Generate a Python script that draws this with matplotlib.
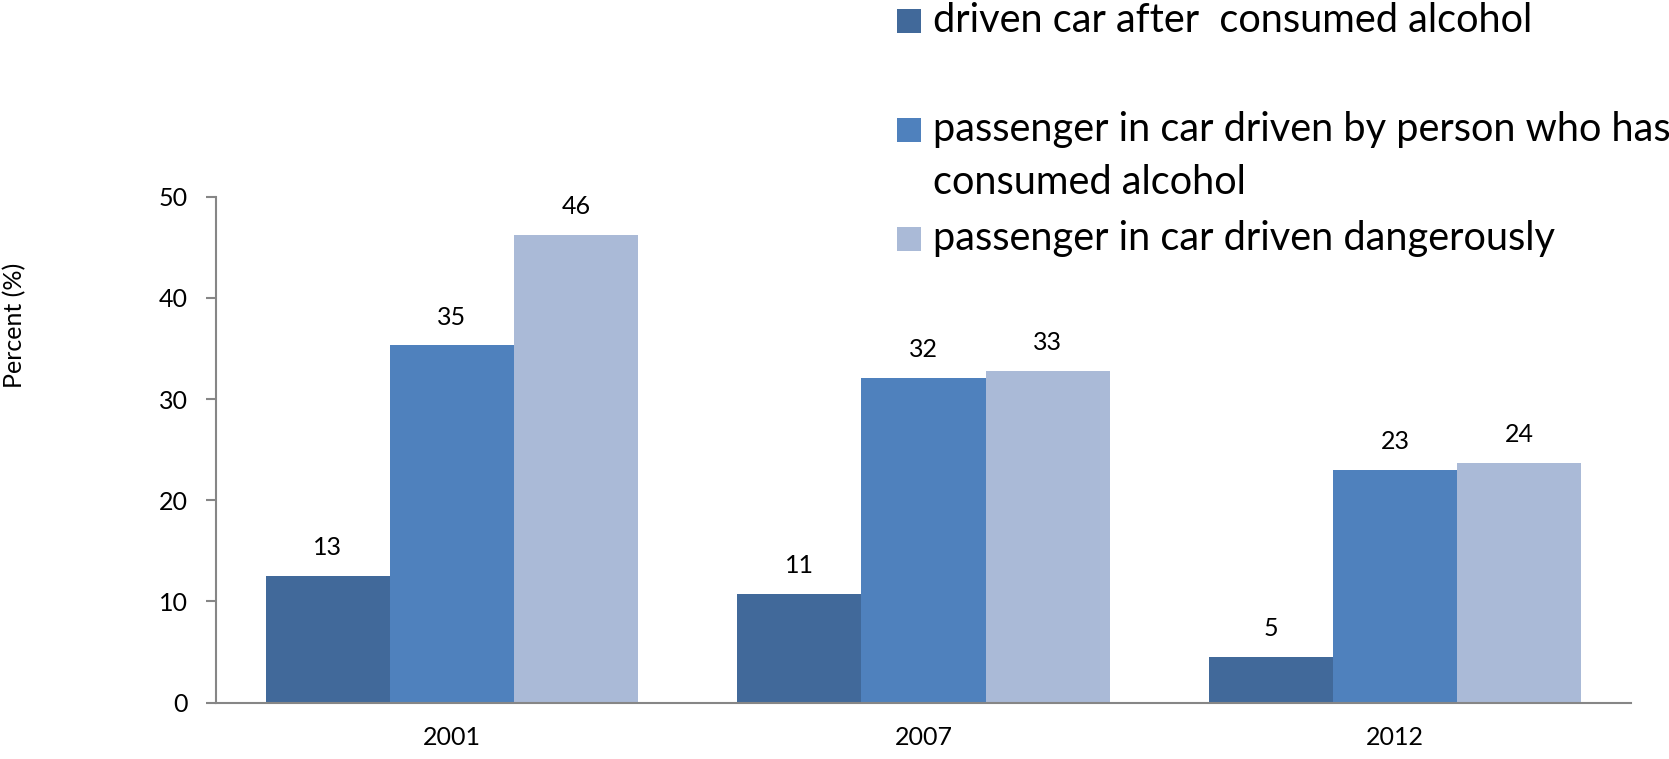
import matplotlib
matplotlib.use("Agg")
import matplotlib.pyplot as plt
import numpy as np
from matplotlib.patches import Rectangle

years = ["2001", "2007", "2012"]
driven_after_alcohol = [12.5, 10.7, 4.5]
passenger_alcohol = [35.3, 32.1, 23.0]
passenger_dangerous = [46.2, 32.8, 23.7]
# data labels as printed on the chart
driven_labels = ["13", "11", "5"]
passenger_alcohol_labels = ["35", "32", "23"]
passenger_dangerous_labels = ["46", "33", "24"]

series_names = [
    "driven car after  consumed alcohol",
    "passenger in car driven by person who has\nconsumed alcohol",
    "passenger in car driven dangerously",
]
colors = ["#41699a", "#4f81bd", "#aabad7"]

plt.rcParams["font.family"] = ["Lato", "DejaVu Sans"]

W, H = 1669, 759
fig = plt.figure(figsize=(W / 100, H / 100), dpi=100)
ax = fig.add_axes([216 / W, 1 - 702.5 / H, (1631 - 216) / W, (702.5 - 196.7) / H])

x = np.arange(len(years))
width = 0.263
all_series = [driven_after_alcohol, passenger_alcohol, passenger_dangerous]
all_labels = [driven_labels, passenger_alcohol_labels, passenger_dangerous_labels]
for k, (vals, labs, col) in enumerate(zip(all_series, all_labels, colors)):
    bars = ax.bar(x + (k - 1) * width, vals, width, color=col, edgecolor="none")
    for b, v, lab in zip(bars, vals, labs):
        ax.annotate(lab, (b.get_x() + b.get_width() / 2, v),
                    xytext=(0, 15), textcoords="offset points",
                    ha="center", va="baseline", fontsize=18)

ax.set_xlim(-0.5, 2.5)
ax.set_ylim(0, 50)
ax.set_yticks([0, 10, 20, 30, 40, 50])
ax.set_xticks(x)
ax.set_xticklabels(years)
ax.tick_params(axis="x", length=0, labelsize=18, pad=17)
ax.tick_params(axis="y", length=7.2, width=1.5, color="#868686", labelsize=18, pad=13)
for s in ["top", "right"]:
    ax.spines[s].set_visible(False)
for s in ["left", "bottom"]:
    ax.spines[s].set_color("#868686")
    ax.spines[s].set_linewidth(1.5)

fig.text(15 / W, 1 - 325 / H, "Percent (%)", rotation=90, ha="center", va="center", fontsize=18)

# legend drawn by hand to keep the uneven spacing of the original
legend_y = [21, 130, 239]
line_step = 53
for name, col, yc in zip(series_names, colors, legend_y):
    fig.patches.append(Rectangle((897 / W, 1 - (yc + 12) / H), 24 / W, 24 / H,
                                 transform=fig.transFigure, facecolor=col, edgecolor="none"))
    for i, line in enumerate(name.split("\n")):
        fig.text(933 / W, 1 - (yc + 11 + i * line_step) / H, line,
                 ha="left", va="baseline", fontsize=28.6)

fig.savefig("out.png", dpi=100)
